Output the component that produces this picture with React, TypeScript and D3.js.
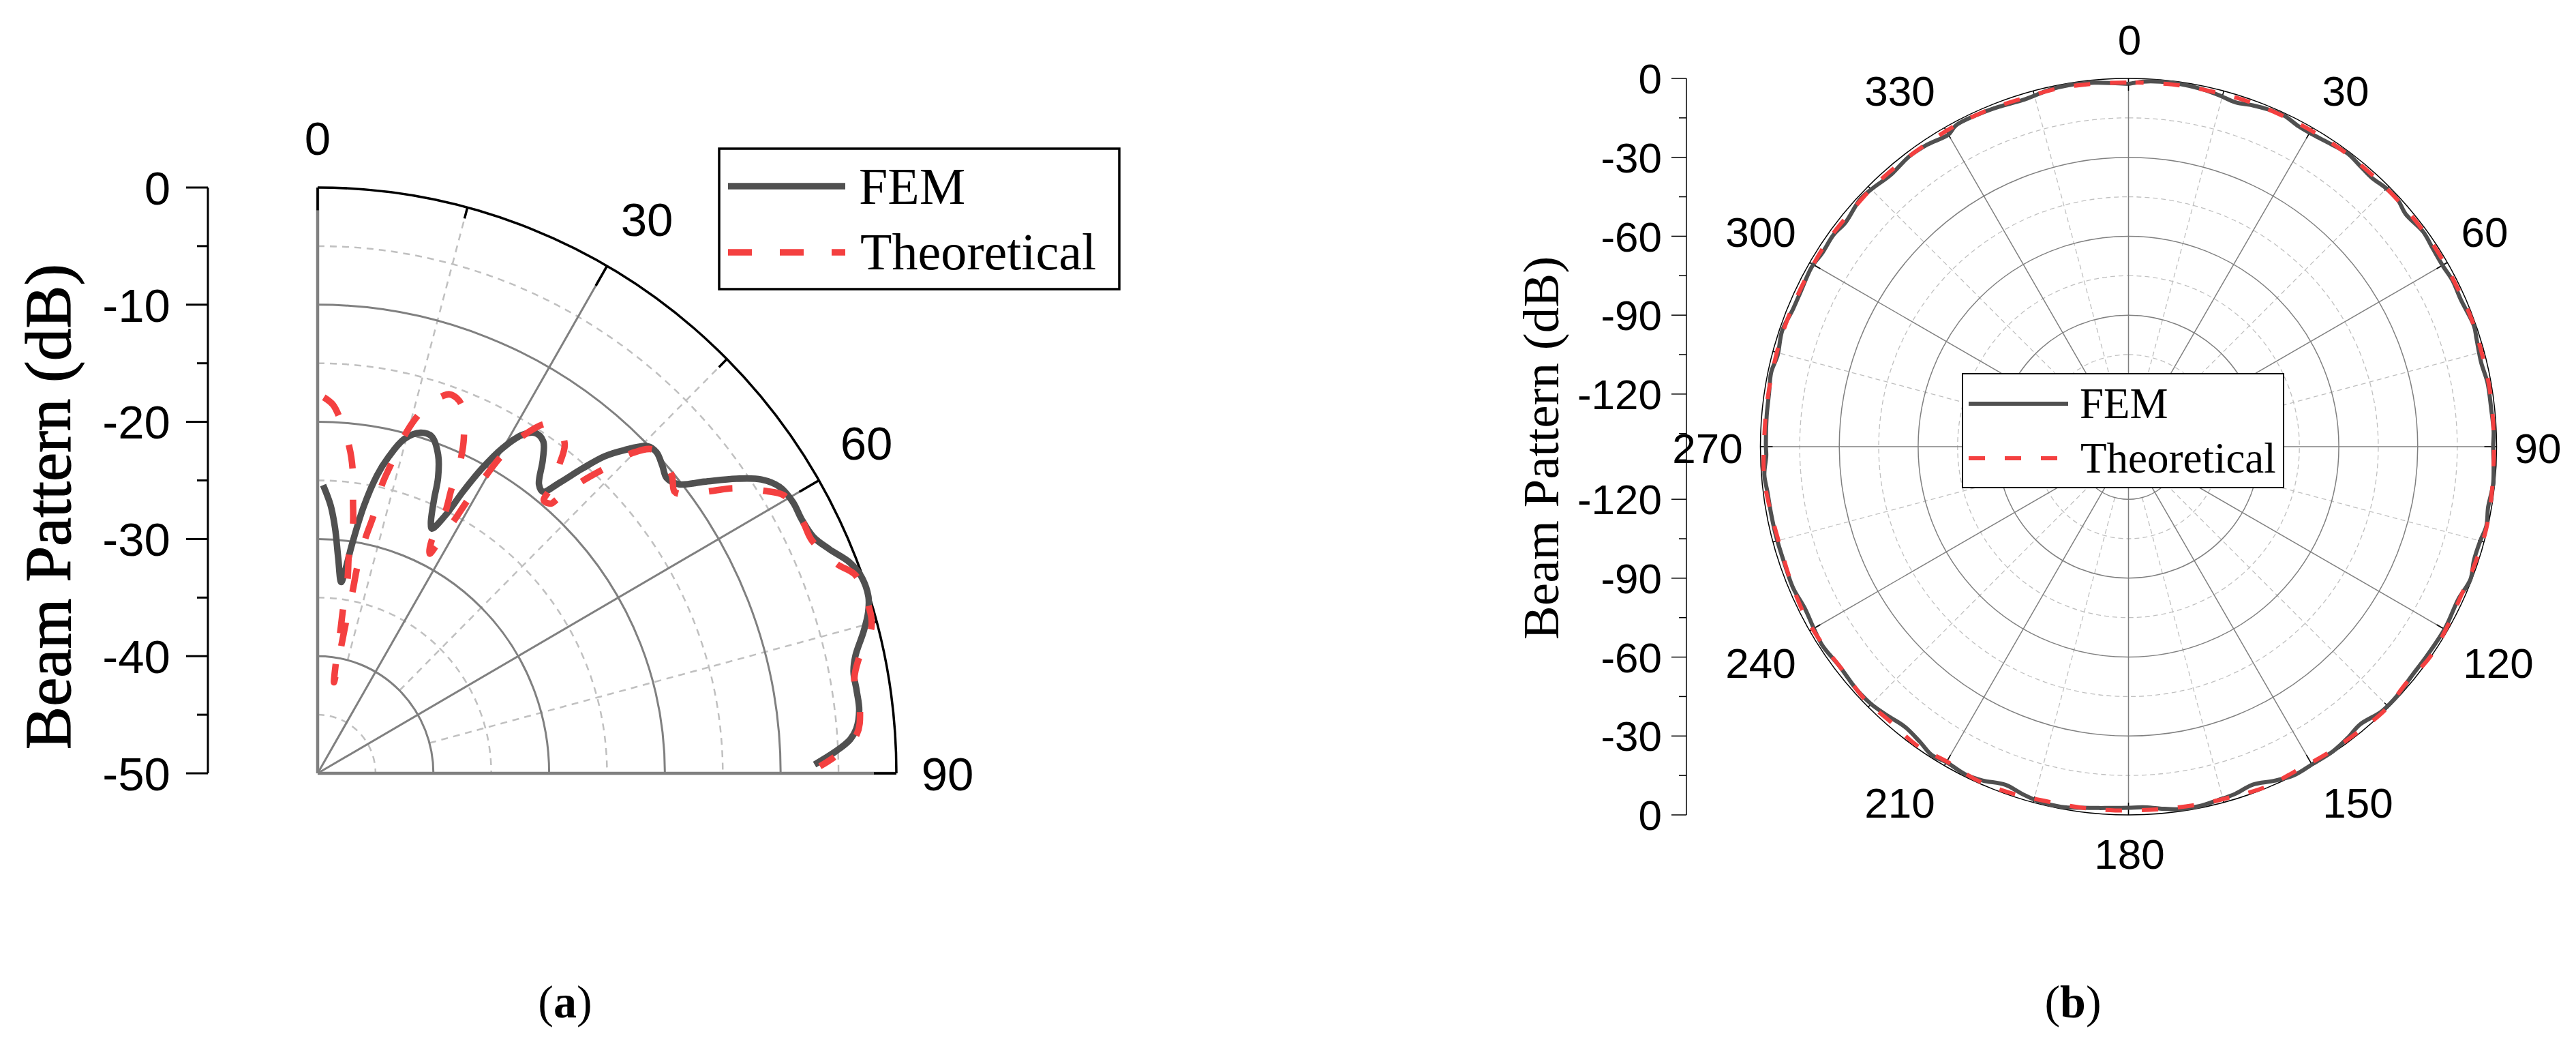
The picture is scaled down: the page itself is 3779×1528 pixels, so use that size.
import React from "react";
import * as d3 from "d3";

type Pt = [number, number];

// (a) values: angle in degrees, level in dB
const femAAngles = [1.1, 2.8, 4.1, 5.5, 7.1, 7.8, 8.65, 9.9, 11.4, 12.8, 14.7, 17, 18.9, 20.96, 22.4, 23.3, 24.6, 25.3, 26.6, 27.6, 28.6, 29.9, 31.5, 32.9, 34.5, 36, 37.8, 39, 40.1, 41.3, 42.5, 43.8, 45.6, 46.9, 48.6, 50.1, 51.7, 53.3, 55.2, 56.8, 58.5, 60.6, 62.6, 64.8, 66.6, 68.6, 70.3, 72.4, 73.9, 75.6, 77.8, 79.4, 81.4, 83.4, 85.3, 86.4, 87.6, 89];
const femADb = [-25.4, -27.1, -29, -31.5, -33.55, -32.55, -30.2, -26.9, -24.06, -22.3, -20.5, -19.6, -19.6, -20.9, -22.7, -24.6, -26.5, -26.9, -25.4, -22.8, -20.4, -18, -16.1, -15.4, -15.6, -16.9, -18.8, -19.07, -17.6, -15.4, -13.3, -11.8, -10.1, -9.9, -10.3, -10.7, -10.2, -8.35, -5.94, -4.2, -3.2, -2.86, -2.9, -2.65, -1.83, -0.64, -0.12, -0.08, -0.5, -1.3, -2.46, -2.9, -2.9, -2.9, -3.3, -3.9, -5.2, -7.06];
const theoAAngles = [0.95, 2.4, 3.5, 5.6, 6.7, 7.5, 8.2, 8.25, 8.85, 8.9, 9.2, 9.5, 10.3, 10.65, 10.75, 11, 11, 11.65, 12.4, 12.7, 13.5, 14.5, 15.5, 16.9, 18.6, 19.4, 20.6, 21.75, 23.8, 24.8, 25.5, 26.3, 26.4, 27.3, 27.8, 28.7, 29.1, 29.8, 30.3, 31.6, 33.5, 34.9, 37.2, 38.4, 39.6, 40, 41.2, 41.5, 42.6, 43.6, 44.8, 46.5, 50.2, 52, 52.8, 54.7, 55.9, 58.1, 59.5, 61.4, 63.1, 65, 68.3, 70, 73.4, 75.4, 78.1, 80.2, 83.6, 85.9, 88, 89.2];
const theoADb = [-17.9, -18.5, -19.5, -22, -24, -26.6, -28.6, -31.26, -33.2, -35.9, -37.8, -40.5, -42.1, -38.6, -36.7, -34.1, -32.1, -29.4, -27.4, -24.8, -22.9, -20.4, -18.7, -17.1, -16, -15.7, -15.8, -16.3, -18.7, -20.6, -23.2, -25.1, -27.9, -28.9, -28, -25.2, -23.2, -20.7, -18.8, -16.2, -14.2, -13.9, -14.7, -16.4, -18.5, -19.6, -19.4, -18.7, -16, -14.1, -11.5, -9.9, -10.2, -10.9, -10.6, -8.3, -6.6, -4.4, -3.25, -3, -2.9, -2.9, -1.7, -0.55, -0.3, -0.56, -2.2, -2.95, -2.85, -3.3, -5.1, -6.6];

// (b)
const femBAngles = [0, 2.3, 5, 8, 11.5, 14.4, 17.3, 20, 22.6, 25.2, 28, 30.7, 33.7, 36.8, 39.5, 42.2, 44.8, 47.5, 50, 53.9, 56.9, 60, 62.8, 66.1, 70.8, 72.7, 76.6, 79.9, 84.1, 87.6, 90, 93.3, 96, 99.5, 102.5, 105, 108.2, 111.2, 114.8, 119.8, 124.4, 129.2, 132.5, 136.2, 140.2, 143, 146.1, 149.7, 153.3, 156.4, 159.8, 162.9, 165.7, 168.9, 172.3, 175, 177.7, 180, 181.9, 184.5, 187.2, 190.6, 194.2, 197, 200, 203.6, 206.4, 210, 212.5, 215.3, 218.6, 221.8, 225, 228.3, 232.8, 237, 240, 243.4, 247.1, 250.6, 255.8, 259.4, 262.9, 265.6, 268.6, 270, 274.8, 278.3, 281.8, 284.6, 288.5, 292.3, 295.3, 299.5, 302.3, 305.7, 308.4, 312.7, 315.2, 318.8, 322.9, 326.3, 330, 331.8, 336.3, 339.1, 343.4, 347.6, 350.4, 354.6, 360];
const femBDb = [-2.1, -1.1, -0.7, -0.7, -1.2, -2, -2.9, -1.9, -1.2, -0.9, -2.1, -2.2, -1.6, -0.8, -1.6, -2.1, -1.3, -1.1, -2.4, -1.3, -1.9, -2.1, -1.5, -1.8, -0.8, -1.4, -2.1, -1.3, -1.3, -1, -1.3, -0.9, -0.6, -1.3, -0.6, -1.5, -1.7, -0.5, -1.8, -1.2, -1.4, -1.4, -0.7, -0.7, -2.5, -1.4, -0.5, -0.5, -0.1, -1.4, -3.1, -1.9, -1.4, -0.7, -0.9, -1.9, -2.8, -2.7, -2.6, -2.2, -1.6, -0.7, -0.9, -1.9, -3.2, -1.5, -0.8, -1.5, -0.9, -2.6, -3.7, -2.7, -1.6, -1.4, -2, -1.2, -1.8, -2.4, -1.6, -1.8, -1.7, -1.7, -1.6, -1.1, -2.2, -2.1, -1.9, -1.8, -1.2, -2.1, -1.1, -2.1, -2.1, -1.5, -2.2, -1.9, -2.7, -1.2, -1.7, -2.7, -1.7, -2, -3, -1.3, -1.4, -1.7, -2.2, -1, -0.7, -1, -2.1];
const theoBAngles = [1.1, 6.9, 12.5, 18.3, 23.8, 29.1, 34.7, 40.4, 45.9, 51.9, 57.6, 63.7, 69.2, 75, 80.6, 86.4, 91.8, 97.5, 102.9, 108.5, 114.2, 119.4, 124.9, 130.3, 135.7, 141.4, 147, 152.3, 158, 163.7, 169.3, 175.1, 182.1, 187.7, 193.4, 198.9, 204.5, 209.6, 215.4, 220.8, 226.3, 231.6, 237.6, 242.8, 248.6, 254, 259.7, 265, 270.5, 276.2, 281.7, 287.1, 293.2, 298.8, 304.2, 310, 315.4, 321, 326.4, 331.8, 337.5, 343.5, 349, 354.6, 361.1];
const theoBDb = [-1.5, -1.3, -1.3, -1.1, -1.2, -1.2, -1.1, -1.2, -1.2, -1.1, -1, -1.1, -0.8, -1, -0.9, -1, -1, -0.7, -0.4, -0.9, -1.4, -0.8, -0.2, -1.3, -0.2, -0.8, -1, -1.3, -0.5, -1.2, -1.4, -1.7, -1.6, -1.6, -1.6, -0.9, -0.7, -1.8, -0.8, -1.7, -1.1, -2, -1.5, -1.2, -1.8, -2.2, -1.7, -0.9, -1.4, -1.5, -1.6, -1.5, -1.6, -1.6, -1.4, -1.7, -1.5, -1.6, -1.6, -1.3, -1.3, -1.6, -1.2, -1.4, -1.5];

const axisATicks = [0, -10, -20, -30, -40, -50];
const axisBTicks = [0, -30, -60, -90, -120];
const angleLabelsA = [
  { text: "0", x: 466, y: 202 },
  { text: "30", x: 949, y: 321 },
  { text: "60", x: 1271, y: 649 },
  { text: "90", x: 1390, y: 1134 },
];
const angleLabelsB = [
  { text: "0", x: 3124, y: 58 },
  { text: "30", x: 3441, y: 133 },
  { text: "60", x: 3645, y: 340 },
  { text: "90", x: 3723, y: 657 },
  { text: "120", x: 3665, y: 972 },
  { text: "150", x: 3459, y: 1177 },
  { text: "180", x: 3124, y: 1252 },
  { text: "210", x: 2787, y: 1177 },
  { text: "240", x: 2583, y: 972 },
  { text: "270", x: 2505, y: 657 },
  { text: "300", x: 2583, y: 340 },
  { text: "330", x: 2787, y: 133 },
];

const FEM_COLOR = "#505050";
const THEO_COLOR = "#f44040";
const GRID_SOLID = "#808080";
const GRID_DASH = "#c0c0c0";
const SANS = "'Liberation Sans', Arial, sans-serif";
const SERIF = "'Liberation Serif', 'Times New Roman', serif";

const zip = (a: number[], b: number[]): Pt[] => a.map((v, i) => [v, b[i]]);
const rad = (deg: number) => (deg * Math.PI) / 180;

function ringPath(r: number, endDeg: number) {
  const p = d3.path();
  p.arc(0, 0, r, -Math.PI / 2, rad(endDeg) - Math.PI / 2);
  return p.toString();
}

function spoke(deg: number, r0: number, r1: number) {
  const s = Math.sin(rad(deg));
  const c = -Math.cos(rad(deg));
  return { x1: r0 * s, y1: r0 * c, x2: r1 * s, y2: r1 * c };
}

interface GridProps {
  r: d3.ScaleLinear<number, number>;
  endDeg: number;
  step: number;
  dbMin: number;
  dbStep: number;
  tickMajor: number;
  tickWidth: number;
  outerWidth: number;
  spokeWidth: number;
  dash: string;
  dashWidth: number;
}

function PolarGrid({ r, endDeg, step, dbMin, dbStep, tickMajor, tickWidth, outerWidth, spokeWidth, dash, dashWidth }: GridProps) {
  const R = r(0);
  const solidRings = d3.range(-dbStep, dbMin, -dbStep);
  const dashRings = d3.range(-dbStep / 2, dbMin, -dbStep);
  const full = endDeg >= 360;
  const solidSpokes = d3.range(0, endDeg + (full ? 0 : 1), step);
  const dashSpokes = d3.range(step / 2, endDeg, step);
  const innerR = r(solidRings[solidRings.length - 1]);
  return (
    <g fill="none">
      {dashRings.map((db) => (
        <path key={db} d={ringPath(r(db), endDeg)} stroke={GRID_DASH} strokeWidth={dashWidth} strokeDasharray={dash} />
      ))}
      {dashSpokes.map((a) => (
        <line key={a} {...spoke(a, innerR, R)} stroke={GRID_DASH} strokeWidth={dashWidth} strokeDasharray={dash} />
      ))}
      {solidRings.map((db) => (
        <path key={db} d={ringPath(r(db), endDeg)} stroke={GRID_SOLID} strokeWidth={spokeWidth} />
      ))}
      {solidSpokes.map((a) => (
        <line key={a} {...spoke(a, 0, R)} stroke={GRID_SOLID} strokeWidth={full || a % 90 ? spokeWidth : spokeWidth * 1.5} />
      ))}
      {solidSpokes.map((a) => (
        <line key={a} {...spoke(a, R - tickMajor, R)} stroke="#000" strokeWidth={tickWidth} />
      ))}
      {dashSpokes.map((a) => (
        <line key={a} {...spoke(a, R - tickMajor / 2, R)} stroke="#000" strokeWidth={tickWidth} />
      ))}
      <path d={ringPath(R, endDeg)} stroke="#000" strokeWidth={outerWidth} />
    </g>
  );
}

function PanelA() {
  const cx = 466;
  const cy = 1134;
  const r = d3.scaleLinear().domain([-50, 0]).range([0, 849]);
  const y = d3.scaleLinear().domain([0, -50]).range([275, 1134]);
  const line = d3
    .lineRadial<Pt>()
    .angle((d) => rad(d[0]))
    .radius((d) => r(d[1]))
    .curve(d3.curveCatmullRom.alpha(0.5));
  return (
    <g>
      <g transform={`translate(${cx},${cy}) scale(1,${859 / 849})`}>
        <PolarGrid r={r} endDeg={90} step={30} dbMin={-50} dbStep={10} tickMajor={33} tickWidth={3.5} outerWidth={3.5} spokeWidth={3} dash="10 8" dashWidth={2.5} />
        <path d={line(zip(femAAngles, femADb)) ?? ""} fill="none" stroke={FEM_COLOR} strokeWidth={9.5} />
        <path d={line(zip(theoAAngles, theoADb)) ?? ""} fill="none" stroke={THEO_COLOR} strokeWidth={9.5} strokeDasharray="35 45" />
      </g>

      <line x1={305} x2={305} y1={y(0)} y2={y(-50)} stroke="#000" strokeWidth={3} />
      {d3.range(0, -51, -5).map((t) => (
        <line key={t} x1={t % 10 ? 289 : 273} x2={305} y1={y(t)} y2={y(t)} stroke="#000" strokeWidth={3} />
      ))}
      {axisATicks.map((t) => (
        <text key={t} x={250} y={y(t) + 24.7} textAnchor="end" fontFamily={SANS} fontSize={69}>{t}</text>
      ))}
      {angleLabelsA.map((l) => (
        <text key={l.text} x={l.x} y={l.y + 24.7} textAnchor="middle" fontFamily={SANS} fontSize={69}>{l.text}</text>
      ))}
      <text transform="translate(103,743) rotate(-90)" textAnchor="middle" fontFamily={SERIF} fontSize={95} stroke="#000" strokeWidth={1.2}>Beam Pattern (dB)</text>

      <rect x={1055} y={218} width={587} height={206} fill="#fff" stroke="#000" strokeWidth={3.5} />
      <line x1={1068} x2={1240} y1={273} y2={273} stroke={FEM_COLOR} strokeWidth={9.5} />
      <line x1={1068} x2={1240} y1={370} y2={370} stroke={THEO_COLOR} strokeWidth={9.5} strokeDasharray="35 41" />
      <text x={1260} y={299} fontFamily={SERIF} fontSize={76}>FEM</text>
      <text x={1262} y={395} fontFamily={SERIF} fontSize={76}>Theoretical</text>
      <text x={829} y={1492} textAnchor="middle" fontFamily={SERIF} fontSize={68}>(<tspan fontWeight="bold">a</tspan>)</text>
    </g>
  );
}

function PanelB() {
  const cx = 3122.5;
  const cy = 655;
  const r = d3.scaleLinear().domain([-140, 0]).range([0, 540]);
  const yTop = d3.scaleLinear().domain([0, -140]).range([115, 655]);
  const yBottom = d3.scaleLinear().domain([-140, 0]).range([655, 1195]);
  const line = d3
    .lineRadial<Pt>()
    .angle((d) => rad(d[0]))
    .radius((d) => r(d[1]))
    .curve(d3.curveCatmullRom.alpha(0.5));
  const minor = d3.range(0, -136, -15);
  return (
    <g>
      <g transform={`translate(${cx},${cy})`}>
        <PolarGrid r={r} endDeg={360} step={30} dbMin={-140} dbStep={30} tickMajor={18} tickWidth={1.5} outerWidth={1.5} spokeWidth={1.5} dash="7 5" dashWidth={1.3} />
        <path d={line(zip(femBAngles, femBDb)) ?? ""} fill="none" stroke={FEM_COLOR} strokeWidth={6} />
        <path d={line(zip(theoBAngles, theoBDb)) ?? ""} fill="none" stroke={THEO_COLOR} strokeWidth={6} strokeDasharray="24 29" strokeDashoffset={12} />
      </g>

      <line x1={2474} x2={2474} y1={115} y2={1195} stroke="#000" strokeWidth={1.5} />
      {minor.map((t) => (
        <g key={t}>
          <line x1={t % 30 ? 2463 : 2452} x2={2474} y1={yTop(t)} y2={yTop(t)} stroke="#000" strokeWidth={1.5} />
          <line x1={t % 30 ? 2463 : 2452} x2={2474} y1={yBottom(t)} y2={yBottom(t)} stroke="#000" strokeWidth={1.5} />
        </g>
      ))}
      {axisBTicks.map((t) => (
        <g key={t} fontFamily={SANS} fontSize={62} textAnchor="end">
          <text x={2438} y={yTop(t) + 22.2}>{t}</text>
          <text x={2438} y={yBottom(t) + 22.2}>{t}</text>
        </g>
      ))}
      {angleLabelsB.map((l) => (
        <text key={l.text} x={l.x} y={l.y + 22.2} textAnchor="middle" fontFamily={SANS} fontSize={62}>{l.text}</text>
      ))}
      <text transform="translate(2286,657) rotate(-90)" textAnchor="middle" fontFamily={SERIF} fontSize={75}>Beam Pattern (dB)</text>

      <rect x={2879} y={548} width={471} height={167} fill="#fff" stroke="#000" strokeWidth={2} />
      <line x1={2888} x2={3034} y1={592} y2={592} stroke={FEM_COLOR} strokeWidth={6} />
      <line x1={2888} x2={3019} y1={672} y2={672} stroke={THEO_COLOR} strokeWidth={6} strokeDasharray="24 29" />
      <text x={3051} y={613} fontFamily={SERIF} fontSize={63}>FEM</text>
      <text x={3052} y={693} fontFamily={SERIF} fontSize={63}>Theoretical</text>
      <text x={3041} y={1492} textAnchor="middle" fontFamily={SERIF} fontSize={68}>(<tspan fontWeight="bold">b</tspan>)</text>
    </g>
  );
}

export default function App() {
  return (
    <svg
      width={3779}
      height={1528}
      viewBox="0 0 3779 1528"
      style={{ position: "absolute", left: 0, top: 0, background: "#fff" }}
    >
      <PanelA />
      <PanelB />
    </svg>
  );
}
